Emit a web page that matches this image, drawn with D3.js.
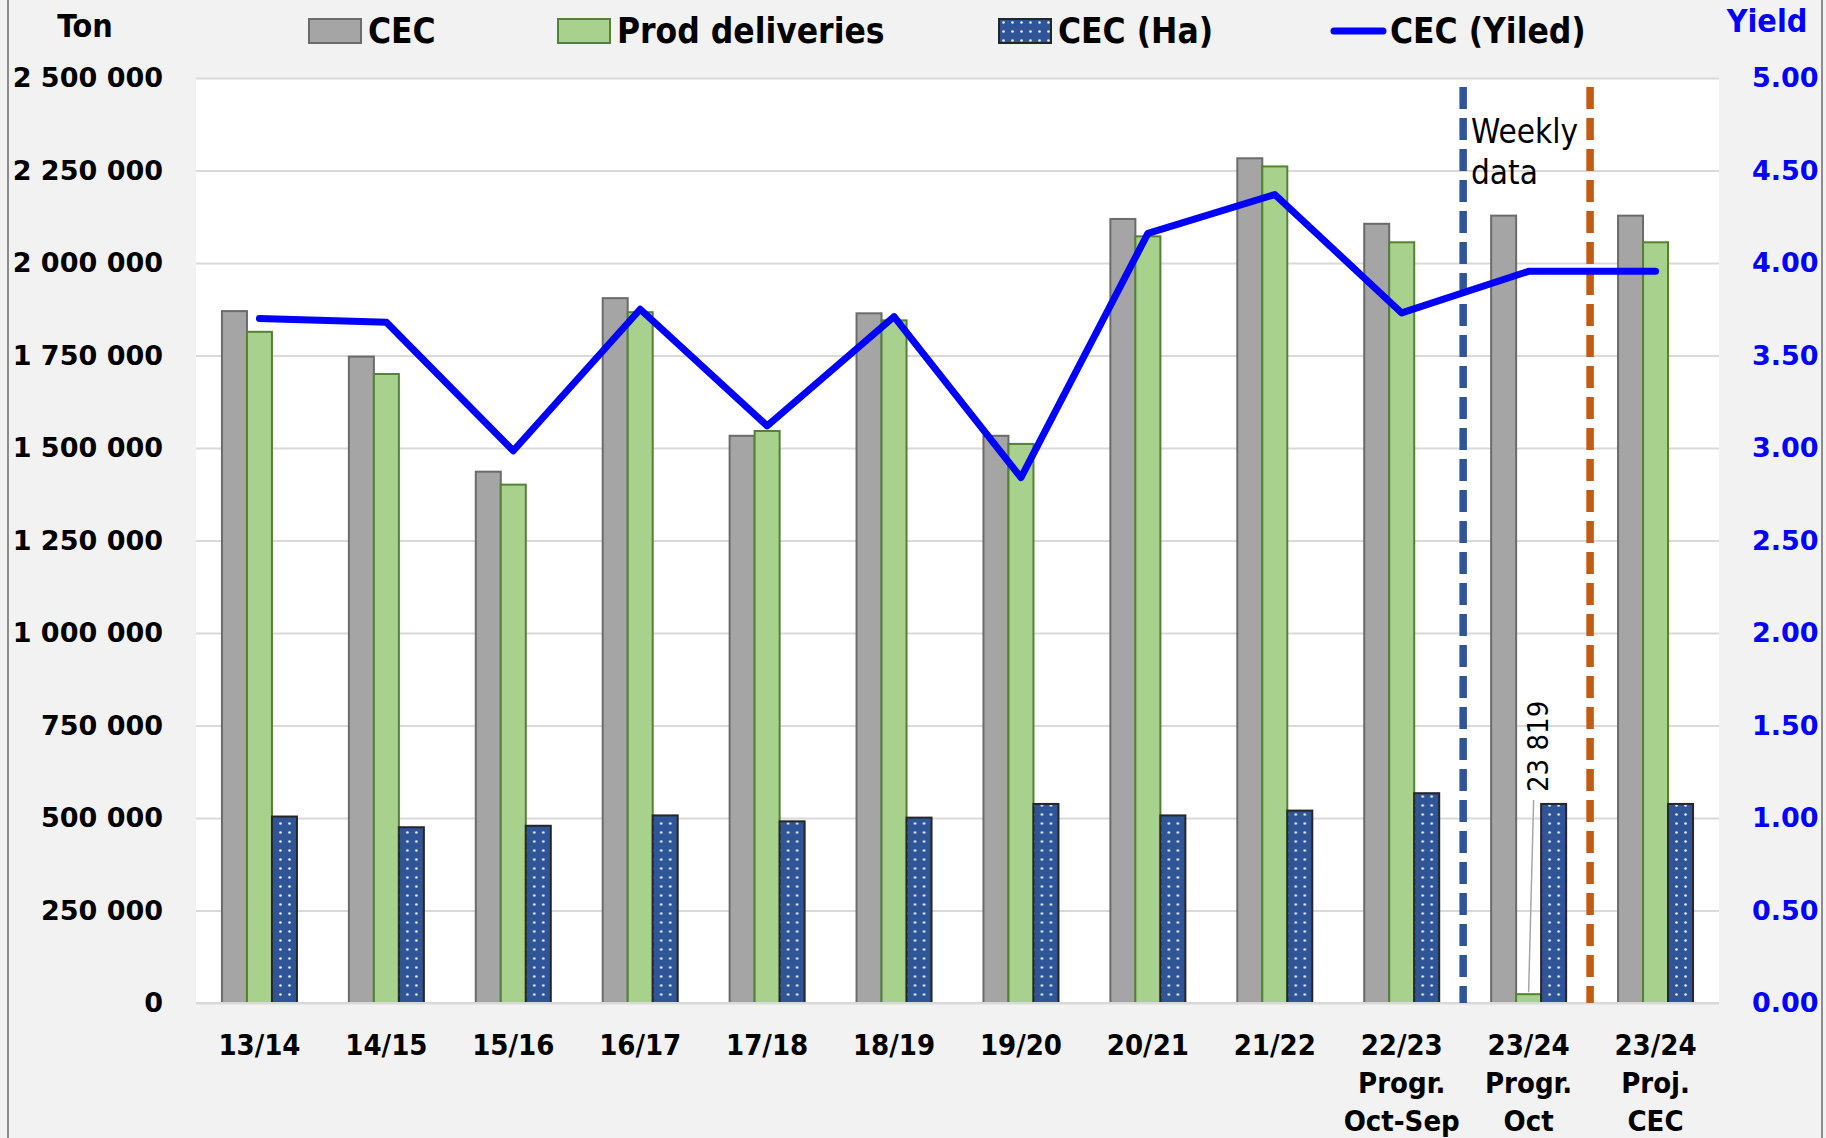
<!DOCTYPE html>
<html>
<head>
<meta charset="utf-8">
<script src="https://cdn.jsdelivr.net/npm/d3@7"></script>
<style>
body { margin: 0; background: #f2f2f2; }
svg { display: block; }
</style>
</head>
<body>
<div id="chart_container"></div>
<script>
var categories = ["13/14", "14/15", "15/16", "16/17", "17/18", "18/19", "19/20", "20/21", "21/22",
    "22/23 Progr. Oct-Sep", "23/24 Progr. Oct", "23/24 Proj. CEC"]
var cec = [1870000, 1747000, 1436000, 1905000, 1533000, 1864000, 1533000, 2119000, 2283000, 2106000, 2128000, 2128000]
var prod = [1814000, 1700000, 1401000, 1867000, 1546000, 1845000, 1511000, 2072000, 2261000, 2056000, 23819, 2056000]
var cec_ha = [504000, 475000, 479000, 507000, 491000, 501000, 538000, 507000, 520000, 567000, 538000, 538000]
var cec_yield = [3.70, 3.68, 2.985, 3.75, 3.12, 3.71, 2.84, 4.16, 4.37, 3.73, 3.955, 3.955]
var left_ticks = [0, 250000, 500000, 750000, 1000000, 1250000, 1500000, 1750000, 2000000, 2250000, 2500000]
var right_ticks = [0, 0.5, 1, 1.5, 2, 2.5, 3, 3.5, 4, 4.5, 5]
var series = ["CEC", "Prod deliveries", "CEC (Ha)", "CEC (Yiled)"]
var dividers = [
    {before: "23/24 Progr. Oct", color: "#2f5597"},
    {before: "23/24 Proj. CEC", color: "#c55a11"}
]

var W = 1826, H = 1138
var pl = 196, pr = 1719, pt = 78, pb = 1003
var bar_w = 25
var narrow = "'Liberation Sans Narrow', 'Arial Narrow', 'DejaVu Sans Condensed', sans-serif"
var wide = "'DejaVu Sans', Verdana, sans-serif"

var fmt = d3.formatLocale({decimal: ".", thousands: " ", grouping: [3], currency: ["", ""]}).format(",")

draw_chart()

function draw_chart() {
    var svg = d3.select("#chart_container")
        .append("svg")
            .attr("width", W)
            .attr("height", H)

    var defs = svg.append("defs")
    var pat = defs.append("pattern")
        .attr("id", "dots")
        .attr("patternUnits", "userSpaceOnUse")
        .attr("width", 9)
        .attr("height", 9)
    pat.append("rect").attr("width", 9).attr("height", 9).attr("fill", "#2f5597")
    pat.append("circle").attr("cx", 4.5).attr("cy", 4.5).attr("r", 1.3).attr("fill", "#e8eef8")

    svg.append("rect")
        .attr("x", 8).attr("y", -5)
        .attr("width", 1814).attr("height", H + 10)
        .attr("fill", "#f2f2f2")
        .attr("stroke", "#8c8c8c")
        .attr("stroke-width", 2)

    svg.append("rect")
        .attr("x", pl).attr("y", pt)
        .attr("width", pr - pl).attr("height", pb - pt)
        .attr("fill", "white")

    var x0 = d3.scaleBand().domain(categories).range([pl, pr])
    var x1 = d3.scaleBand().domain([0, 1, 2]).range([0, bar_w * 3])
    var off = (x0.bandwidth() - bar_w * 3) / 2
    var y = d3.scaleLinear().domain([0, 2500000]).range([pb, pt])
    var yr = d3.scaleLinear().domain([0, 5]).range([pb, pt])

    // gridlines
    svg.append("g")
        .attr("transform", "translate(" + pl + ",0)")
        .call(d3.axisLeft(y).tickValues(left_ticks).tickSize(-(pr - pl)).tickFormat(""))
        .call(function(g) {
            g.select(".domain").remove()
            g.selectAll("line").attr("stroke", "#d9d9d9").attr("stroke-width", 2)
        })

    // left axis labels
    svg.append("g")
        .attr("transform", "translate(163,0)")
        .call(d3.axisLeft(y).tickValues(left_ticks).tickSize(0).tickPadding(0).tickFormat(fmt))
        .call(function(g) {
            g.select(".domain").remove()
            g.selectAll("text")
                .attr("fill", "black")
                .style("font-family", wide)
                .style("font-weight", "bold")
                .style("font-size", "27px")
        })

    // right axis labels
    svg.append("g")
        .attr("transform", "translate(1752,0)")
        .call(d3.axisRight(yr).tickValues(right_ticks).tickSize(0).tickPadding(0).tickFormat(d3.format(".2f")))
        .call(function(g) {
            g.select(".domain").remove()
            g.selectAll("text")
                .attr("fill", "#0000ff")
                .style("font-family", wide)
                .style("font-weight", "bold")
                .style("font-size", "27px")
        })

    var groups = svg.selectAll(".cat_group")
        .data(categories)
        .enter()
        .append("g")
        .attr("class", "cat_group")
        .attr("transform", function(d) { return "translate(" + (x0(d) + off) + ",0)" })

    groups.append("rect")
        .attr("x", x1(0))
        .attr("y", function(d, i) { return y(cec[i]) })
        .attr("width", bar_w)
        .attr("height", function(d, i) { return pb - y(cec[i]) })
        .style("fill", "#a5a5a5")
        .style("stroke", "#6b6b6b")
        .style("stroke-width", "2px")

    groups.append("rect")
        .attr("x", x1(1))
        .attr("y", function(d, i) { return y(prod[i]) })
        .attr("width", bar_w)
        .attr("height", function(d, i) { return pb - y(prod[i]) })
        .style("fill", "#a9d18e")
        .style("stroke", "#548235")
        .style("stroke-width", "2px")

    groups.append("rect")
        .attr("x", x1(2))
        .attr("y", function(d, i) { return y(cec_ha[i]) })
        .attr("width", bar_w)
        .attr("height", function(d, i) { return pb - y(cec_ha[i]) })
        .style("fill", "url(#dots)")
        .style("stroke", "#262626")
        .style("stroke-width", "2px")

    // axis base line
    svg.append("line")
        .attr("x1", pl).attr("x2", pr)
        .attr("y1", pb).attr("y2", pb)
        .attr("stroke", "#d9d9d9").attr("stroke-width", 2)

    // dashed dividers
    svg.selectAll(".divider")
        .data(dividers)
        .enter()
        .append("line")
        .attr("class", "divider")
        .attr("x1", function(d) { return x0(d.before) - 2 })
        .attr("x2", function(d) { return x0(d.before) - 2 })
        .attr("y1", 87)
        .attr("y2", pb)
        .attr("stroke", function(d) { return d.color })
        .attr("stroke-width", 7.5)
        .attr("stroke-dasharray", "22,9")

    // yield line
    var line = d3.line()
        .x(function(d, i) { return x0(categories[i]) + x0.bandwidth() / 2 })
        .y(function(d) { return yr(d) })
    svg.append("path")
        .datum(cec_yield)
        .attr("d", line)
        .attr("fill", "none")
        .attr("stroke", "#0000ff")
        .attr("stroke-width", 7)
        .attr("stroke-linejoin", "round")
        .attr("stroke-linecap", "round")

    // data label for the small delivery bar
    var k = categories.indexOf("23/24 Progr. Oct")
    var lx = x0(categories[k]) + off + x1(1) + bar_w / 2
    svg.append("line")
        .attr("x1", lx).attr("y1", y(prod[k]) - 2)
        .attr("x2", lx + 5).attr("y2", 800)
        .attr("stroke", "#a6a6a6").attr("stroke-width", 1.5)
    svg.append("text")
        .attr("transform", "translate(" + (lx + 19) + ",792) rotate(-90)")
        .style("font-family", narrow)
        .style("font-size", "29px")
        .text(fmt(prod[k]))

    svg.append("text")
        .attr("x", 1471).attr("y", 143)
        .style("font-family", narrow)
        .style("font-size", "33px")
        .text("Weekly")
    svg.append("text")
        .attr("x", 1471).attr("y", 184)
        .style("font-family", narrow)
        .style("font-size", "33px")
        .text("data")

    // category labels
    var labels = svg.selectAll(".cat_label")
        .data(categories)
        .enter()
        .append("text")
        .attr("class", "cat_label")
        .attr("text-anchor", "middle")
        .style("font-family", narrow)
        .style("font-weight", "bold")
        .style("font-size", "29px")
    labels.selectAll("tspan")
        .data(function(d) { return d.split(" ").map(function(s) { return {s: s, c: d} }) })
        .enter()
        .append("tspan")
        .attr("x", function(d) { return x0(d.c) + x0.bandwidth() / 2 })
        .attr("y", function(d, i) { return 1055 + i * 38 })
        .text(function(d) { return d.s })

    // axis titles
    svg.append("text")
        .attr("x", 85).attr("y", 37)
        .attr("text-anchor", "middle")
        .style("font-family", narrow)
        .style("font-weight", "bold")
        .style("font-size", "32px")
        .text("Ton")
    svg.append("text")
        .attr("x", 1767).attr("y", 32)
        .attr("text-anchor", "middle")
        .attr("fill", "#0000ff")
        .style("font-family", narrow)
        .style("font-weight", "bold")
        .style("font-size", "32px")
        .text("Yield")

    // legend
    var legend_x = [309, 558, 999, 1331]
    var legend_fill = ["#a5a5a5", "#a9d18e", "url(#dots)", null]
    var legend_stroke = ["#6b6b6b", "#548235", "#262626", null]
    var leg = svg.selectAll(".legend_item")
        .data(series)
        .enter()
        .append("g")
        .attr("class", "legend_item")
        .attr("transform", function(d, i) { return "translate(" + legend_x[i] + ",0)" })
    leg.filter(function(d, i) { return i < 3 })
        .append("rect")
        .attr("x", 0).attr("y", 19)
        .attr("width", 52).attr("height", 24)
        .style("fill", function(d, i) { return legend_fill[i] })
        .style("stroke", function(d, i) { return legend_stroke[i] })
        .style("stroke-width", "2px")
    leg.filter(function(d, i) { return i == 3 })
        .append("line")
        .attr("x1", 3).attr("x2", 52)
        .attr("y1", 31).attr("y2", 31)
        .attr("stroke", "#0000ff")
        .attr("stroke-width", 7)
        .attr("stroke-linecap", "round")
    leg.append("text")
        .attr("x", 59).attr("y", 43)
        .style("font-family", narrow)
        .style("font-weight", "bold")
        .style("font-size", "35px")
        .text(function(d) { return d })
}
</script>
</body>
</html>
